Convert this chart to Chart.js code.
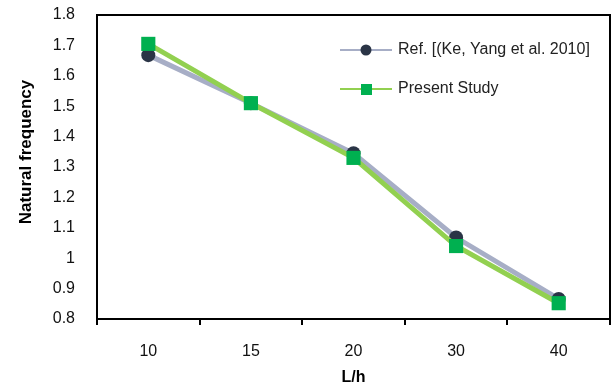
<!DOCTYPE html>
<html>
<head>
<meta charset="utf-8">
<script src="https://cdn.jsdelivr.net/npm/chart.js@4.4.0/dist/chart.umd.min.js"></script>
<style>
    html, body { margin: 0; padding: 0; background: #fff; }
    #wrap { width: 616px; height: 387px; }
</style>
</head>
<body>
<div id="wrap"><canvas id="chart" width="616" height="387"></canvas></div>
<script>
const categories = ['10', '15', '20', '30', '40'];
const refValues = [1.668, 1.51, 1.345, 1.068, 0.866];
const presentValues = [1.705, 1.51, 1.33, 1.04, 0.852];
const yTicks = [0.8, 0.9, 1, 1.1, 1.2, 1.3, 1.4, 1.5, 1.6, 1.7, 1.8];

const refLabel = 'Ref. [(Ke, Yang et al. 2010]';
const presentLabel = 'Present Study';
const yTitle = 'Natural frequency';

const FONT = '"Liberation Sans", Arial, sans-serif';

// box round the plot area, the y title and the legend inside the plot
const framePlugin = {
    id: 'frame',
    afterDraw(chart) {
        const ctx = chart.ctx;
        const a = chart.chartArea;
        ctx.save();
        ctx.strokeStyle = '#000';
        ctx.lineWidth = 2;
        ctx.strokeRect(a.left, a.top, a.right - a.left, a.bottom - a.top);

        ctx.save();
        ctx.translate(26, 152);
        ctx.rotate(-Math.PI / 2);
        ctx.fillStyle = '#000';
        ctx.font = 'bold 17px ' + FONT;
        ctx.textAlign = 'center';
        ctx.textBaseline = 'middle';
        ctx.fillText(yTitle, 0, 0);
        ctx.restore();

        const rows = [
            { ds: chart.data.datasets[0], y: 50 },
            { ds: chart.data.datasets[1], y: 89 }
        ];
        rows.forEach(r => {
            ctx.strokeStyle = r.ds.borderColor;
            ctx.lineWidth = 2;
            ctx.beginPath();
            ctx.moveTo(340, r.y);
            ctx.lineTo(392, r.y);
            ctx.stroke();
            ctx.fillStyle = r.ds.pointBackgroundColor;
            if (r.ds.pointStyle === 'rect') {
                ctx.fillRect(361, r.y - 5, 11, 11);
            } else {
                ctx.beginPath();
                ctx.arc(366, r.y, 5.5, 0, Math.PI * 2);
                ctx.fill();
            }
            ctx.fillStyle = '#222';
            ctx.font = '16px ' + FONT;
            ctx.textBaseline = 'middle';
            ctx.fillText(r.ds.label, 398, r.y);
        });
        ctx.restore();
    }
};

const ctx = document.getElementById('chart').getContext('2d');
new Chart(ctx, {
    type: 'line',
    data: {
        labels: categories,
        datasets: [{
            label: refLabel,
            data: refValues,
            borderColor: '#a7aec6',
            borderWidth: 5,
            pointStyle: 'circle',
            pointRadius: 7,
            pointBackgroundColor: '#2a3446',
            pointBorderWidth: 0,
            tension: 0,
            order: 2
        }, {
            label: presentLabel,
            data: presentValues,
            borderColor: '#92d050',
            borderWidth: 5,
            pointStyle: 'rect',
            pointRadius: 10,
            pointBackgroundColor: '#00b050',
            pointBorderWidth: 0,
            tension: 0,
            order: 1
        }]
    },
    options: {
        responsive: false,
        animation: false,
        layout: { autoPadding: false, padding: { top: 15, right: 6, left: 0, bottom: 0 } },
        plugins: {
            legend: { display: false },
            tooltip: { enabled: false }
        },
        scales: {
            x: {
                offset: true,
                grid: {
                    offset: true,
                    drawOnChartArea: false,
                    color: '#000',
                    lineWidth: 2,
                    tickLength: 6
                },
                border: { color: '#000', width: 2 },
                ticks: {
                    color: '#111',
                    padding: 17,
                    font: { family: FONT, size: 16 }
                },
                title: {
                    display: true,
                    text: 'L/h',
                    color: '#000',
                    padding: { top: 0, bottom: 0 },
                    font: { family: FONT, size: 16, weight: 'bold' }
                },
                afterFit(scale) {
                    scale.height = 68;
                    scale.paddingLeft = 0;
                    scale.paddingRight = 0;
                }
            },
            y: {
                min: 0.8,
                max: 1.8,
                afterBuildTicks(scale) {
                    scale.ticks = yTicks.map(v => ({ value: v }));
                },
                grid: { display: false, drawTicks: false },
                border: { color: '#000', width: 2 },
                ticks: {
                    color: '#111',
                    padding: 22,
                    callback: v => String(v),
                    font: { family: FONT, size: 16 }
                },
                afterFit(scale) {
                    scale.width = 97;
                    scale.paddingTop = 0;
                    scale.paddingBottom = 0;
                }
            }
        }
    },
    plugins: [framePlugin]
});
</script>
</body>
</html>
